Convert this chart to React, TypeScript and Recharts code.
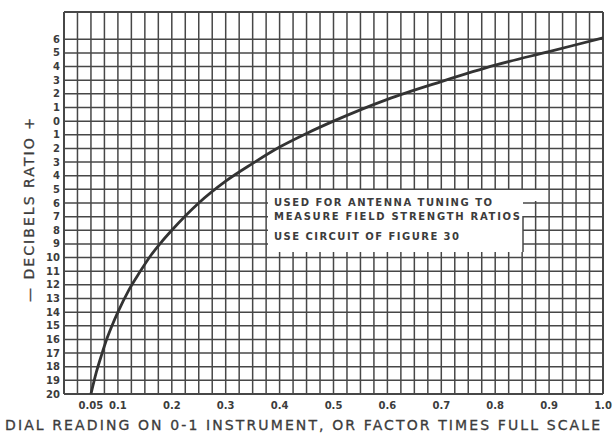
import { LineChart, Line, XAxis, YAxis, ReferenceLine } from "recharts";

// dial reading (fraction of full scale) vs decibels
const dialReading = [0.05, 0.06, 0.07, 0.08, 0.09, 0.1, 0.12, 0.14, 0.16, 0.18, 0.2, 0.25, 0.3, 0.35, 0.4, 0.45, 0.5, 0.6, 0.7, 0.8, 0.9, 1.0];
const decibels = [-20, -18.4, -17.1, -15.9, -14.9, -14.0, -12.4, -11.1, -9.9, -8.9, -8.0, -6.0, -4.4, -3.1, -1.9, -0.9, 0, 1.6, 2.9, 4.1, 5.1, 6.1];

const xTicks = [0.05, 0.1, 0.2, 0.3, 0.4, 0.5, 0.6, 0.7, 0.8, 0.9, 1.0];
const yTicks = [6, 5, 4, 3, 2, 1, 0, -1, -2, -3, -4, -5, -6, -7, -8, -9, -10, -11, -12, -13, -14, -15, -16, -17, -18, -19, -20];

// graph paper: a line every 0.025 across, every 1 dB down (no line at 7)
const gridX = Array.from({ length: 41 }, (_, i) => Math.round(i * 25) / 1000);
const gridY = [8, ...yTicks];

const noteLines = ["USED FOR ANTENNA TUNING TO", "MEASURE  FIELD STRENGTH RATIOS", "USE CIRCUIT OF FIGURE 30"];

const data = dialReading.map((x, i) => ({ x, db: decibels[i] }));

const INK = "#3c3c3c";
const GRID = "#474747";
const FONT = "'DejaVu Sans', sans-serif";

export default function App() {
  return (
    <div style={{ position: "absolute", left: 0, top: 0, width: 616, height: 435, background: "#fff" }}>
      <LineChart width={616} height={435} data={data} margin={{ top: 12, right: 13, bottom: 21, left: 14 }}>
        <XAxis
          dataKey="x"
          type="number"
          domain={[0, 1]}
          ticks={xTicks}
          height={20}
          axisLine={false}
          tickLine={false}
          tickSize={0}
          tickMargin={8}
          tick={{ fill: INK, fontSize: 10, fontWeight: 700, fontFamily: FONT }}
          tickFormatter={(v: number) => (v === 1 ? "1.0" : String(v))}
        />
        <YAxis
          type="number"
          domain={[-20, 8]}
          ticks={yTicks}
          width={50}
          axisLine={false}
          tickLine={false}
          tickSize={0}
          tickMargin={4}
          interval={0}
          tick={{ fill: INK, fontSize: 10, fontWeight: 700, fontFamily: FONT }}
          tickFormatter={(v: number) => String(Math.abs(v))}
        />
        {gridX.map((v) => (
          <ReferenceLine key={`gx${v}`} x={v} stroke={GRID} strokeWidth={v === 0 || v === 1 ? 2 : 1.5} />
        ))}
        {gridY.map((v) => (
          <ReferenceLine key={`gy${v}`} y={v} stroke={GRID} strokeWidth={v === 8 || v === -20 ? 2 : 1.5} />
        ))}
        <Line
          type="monotone"
          dataKey="db"
          stroke="#333"
          strokeWidth={2.8}
          dot={false}
          isAnimationActive={false}
        />
      </LineChart>
      <svg
        width={616}
        height={435}
        style={{ position: "absolute", left: 0, top: 0, pointerEvents: "none" }}
      >
        {/* blank note panel cut out of the graph paper */}
        <rect x={268} y={190} width={255} height={62} fill="#fff" />
        <rect x={522} y={190} width={15} height={11} fill="#fff" />
        <line x1={523} y1={216} x2={523} y2={252} stroke={GRID} strokeWidth={1.5} />
        <text
          x={5}
          y={430}
          textLength={595}
          lengthAdjust="spacing"
          fontFamily={FONT}
          fontSize={14}
          fill={INK}
          stroke={INK}
          strokeWidth={0.3}
        >
          DIAL READING ON 0-1 INSTRUMENT, OR FACTOR TIMES FULL SCALE
        </text>
        <text
          transform="translate(34,302) rotate(-90)"
          x={0}
          y={0}
          textLength={184}
          lengthAdjust="spacing"
          fontFamily={FONT}
          fontSize={14}
          fill={INK}
          stroke={INK}
          strokeWidth={0.3}
        >
          — DECIBELS RATIO +
        </text>
        {noteLines.map((t, i) => (
          <text
            key={t}
            x={274}
            y={[206, 220, 240][i]}
            textLength={[218, 246, 185][i]}
            lengthAdjust="spacing"
            fontFamily={FONT}
            fontSize={10}
            fontWeight={700}
            fill={INK}
          >
            {t}
          </text>
        ))}
      </svg>
    </div>
  );
}
